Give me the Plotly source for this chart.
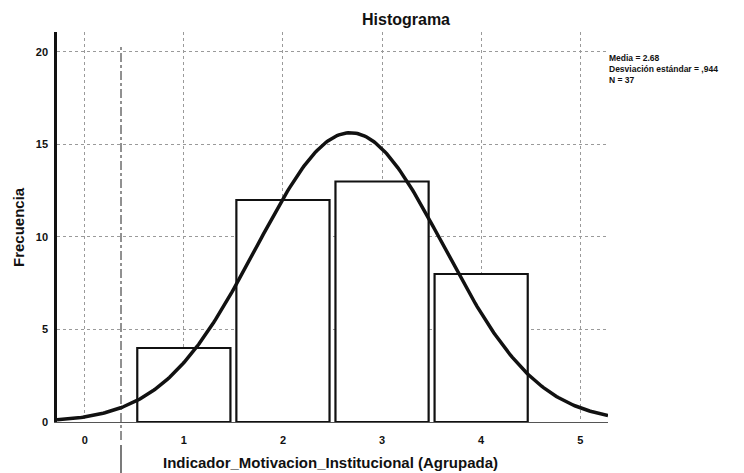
import numpy as np
import plotly.graph_objects as go

# Data
categories = [1, 2, 3, 4]
frequencies = [4, 12, 13, 8]
mean_val = 2.68
sd_val = 0.944
n_val = 37
x_ticks = [0, 1, 2, 3, 4, 5]
y_ticks = [0, 5, 10, 15, 20]
stats_lines = [
    f"Media = {mean_val:.2f}",
    f"Desviación estándar = ,{int(round(sd_val * 1000))}",
    f"N = {n_val}",
]

# Fitted normal curve (SPSS style: N * binwidth * pdf)
xc = np.linspace(-0.28, 5.28, 300)
yc = n_val * 1.0 / (sd_val * np.sqrt(2 * np.pi)) * np.exp(-0.5 * ((xc - mean_val) / sd_val) ** 2)

W, H = 744, 473
L, R, T, B = 57, 608, 32, 422
pw, ph = R - L, B - T

def px(x):
    return (x - L) / pw

def py(y):
    return (B - y) / ph

fig = go.Figure()
fig.add_trace(go.Bar(
    x=categories, y=frequencies, width=0.94,
    marker=dict(color="white", line=dict(color="#111111", width=2.2)),
    showlegend=False, hoverinfo="x+y",
))
fig.add_trace(go.Scatter(
    x=xc, y=yc, mode="lines",
    line=dict(color="#111111", width=3.5),
    showlegend=False, hoverinfo="skip",
))

font_family = "Liberation Sans, Arial, sans-serif"

fig.update_layout(
    width=W, height=H,
    margin=dict(l=L, r=W - R, t=T, b=H - B),
    paper_bgcolor="white", plot_bgcolor="white",
    font=dict(family=font_family, color="#111111"),
    title=dict(text="<b>Histograma</b>", x=406 / W, xanchor="center",
               y=1 - 19.5 / H, yanchor="middle", font=dict(size=16)),
    xaxis=dict(
        range=[-0.28, 5.28], tickvals=x_ticks,
        ticktext=[f"<b>{t}</b>" for t in x_ticks],
        tickfont=dict(size=11), ticks="", ticklen=0, ticklabelstandoff=8,
        showgrid=True, gridcolor="#9a9a9a", griddash="dot", gridwidth=1,
        showline=True, linecolor="#555555", linewidth=1,
        zeroline=False, automargin=False,
    ),
    yaxis=dict(
        range=[0, 21.08], tickvals=y_ticks,
        ticktext=[f"<b>{t}</b>" for t in y_ticks],
        tickfont=dict(size=11), ticks="", ticklen=0, ticklabelstandoff=4,
        showgrid=True, gridcolor="#9a9a9a", griddash="dot", gridwidth=1,
        showline=True, linecolor="#111111", linewidth=2.5,
        zeroline=False, automargin=False,
    ),
)

# Axis titles
fig.add_annotation(
    xref="paper", yref="paper", x=px(330), y=py(462), xanchor="center", yanchor="middle",
    showarrow=False, text="<b>Indicador_Motivacion_Institucional (Agrupada)</b>",
    font=dict(size=15, family=font_family, color="#111111"),
)
fig.add_annotation(
    xref="paper", yref="paper", x=px(18), y=py(227), xanchor="center", yanchor="middle",
    showarrow=False, textangle=-90, text="<b>Frecuencia</b>",
    font=dict(size=15, family=font_family, color="#111111"),
)

# Statistics text at the right of the plot
fig.add_annotation(
    xref="paper", yref="paper", x=px(608), y=py(52), xanchor="left", yanchor="top",
    align="left", showarrow=False, borderpad=0,
    text="<br>".join(f"<b>{line}</b>" for line in stats_lines),
    font=dict(size=8.5, family=font_family, color="#111111"),
)

# Scan artifact: vertical dash-dot line
fig.add_shape(type="line", xref="paper", yref="paper",
              x0=px(121), x1=px(121), y0=py(440), y1=py(45),
              line=dict(color="#222222", width=1, dash="dashdot"))
fig.add_shape(type="line", xref="paper", yref="paper",
              x0=px(121), x1=px(121), y0=py(473), y1=py(445),
              line=dict(color="#222222", width=1.2))

fig.write_html(
    "out.html",
    config={"displayModeBar": False},
    post_script="document.body.style.margin='0';document.body.style.overflow='hidden';",
)
